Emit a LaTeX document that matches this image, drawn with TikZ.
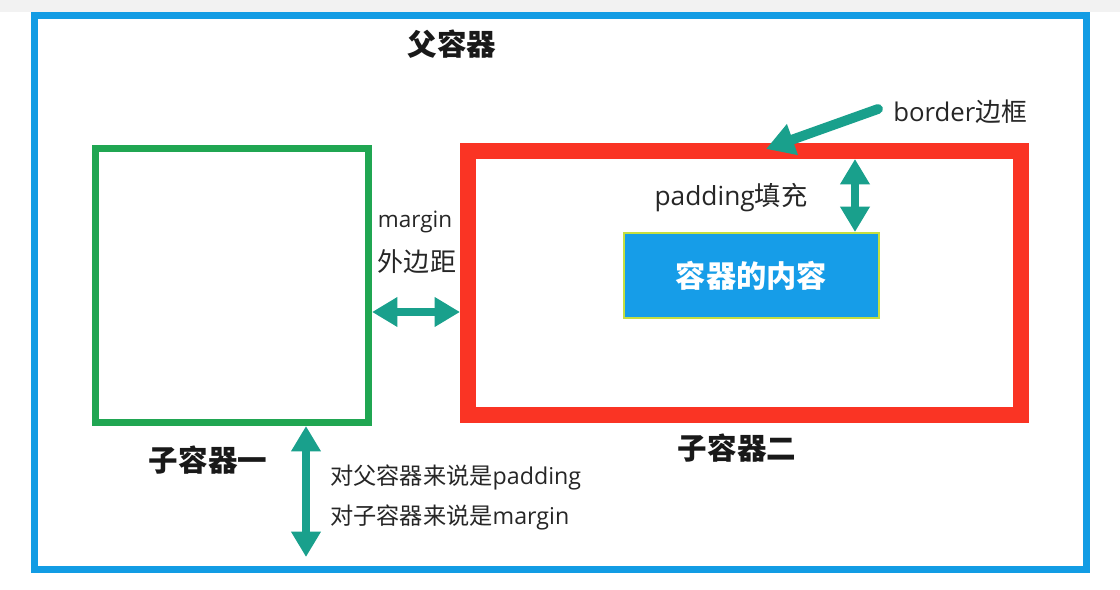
\documentclass[tikz,border=0pt]{standalone}
\usepackage{fontspec}
\setmainfont{Open Sans}
\newfontfamily\cjk{Noto Sans CJK SC}
\usetikzlibrary{arrows.meta}

\definecolor{parentblue}{RGB}{18,156,228}
\definecolor{childgreen}{RGB}{32,166,82}
\definecolor{childred}{RGB}{250,52,36}
\definecolor{contentblue}{RGB}{22,157,232}
\definecolor{contentrim}{RGB}{198,222,64}
\definecolor{arrowteal}{RGB}{25,160,140}

\tikzset{
  box/.style={draw, rectangle, inner sep=0pt},
  title/.style={font=\cjk\bfseries\fontsize{21}{24}\selectfont, text=black!90},
  note/.style={font=\fontsize{16.5}{20}\selectfont, text=black!85, inner sep=0pt},
  dblarrow/.style={draw=arrowteal, line width=5.5pt,
    {Triangle[width=20pt,length=18pt]}-{Triangle[width=20pt,length=18pt]}},
}

\begin{document}
\begin{tikzpicture}[x=0.025cm, y=-0.025cm]
\useasboundingbox (0,0) rectangle (1120,590);
\fill[white] (0,0) rectangle (1120,590);
\fill[black!5] (0,0) rectangle (1120,12);

% boxes
\node[box, draw=parentblue, line width=5pt, minimum width=26.3cm, minimum height=13.85cm] (parent) at (560.5,292.5) {};
\node[box, draw=childgreen, line width=5pt, minimum width=6.825cm, minimum height=6.85cm] (one) at (232,285.5) {};
\node[box, draw=childred, line width=11.3pt, minimum width=13.825cm, minimum height=6.6cm] (two) at (744.5,283) {};
\node[box, draw=contentrim, fill=contentblue, line width=1.4pt, minimum width=6.375cm, minimum height=2.125cm,
  font=\cjk\bfseries\fontsize{21.5}{24}\selectfont, text=white] (content) at (751.5,275.5) {容器的内容};

% labels
\node[title] (ptitle) at (452,44) {父容器};
\node[title] (onetitle) at (208,460) {子容器一};
\node[title] (twotitle) at (737,448) {子容器二};
\node[note, font=\fontsize{18.3}{22}\selectfont, anchor=west] (bdrlabel) at (893,112) {border{\cjk 边框}};
\node[note, font=\fontsize{18.7}{22}\selectfont] (padlabel) at (731,198) {padding{\cjk 填充}};
\node[note, font=\fontsize{16}{20}\selectfont] (mrglabel) at (415,222) {margin};
\node[note, font=\cjk\fontsize{18.5}{22}\selectfont] (mrgcn) at (417,262) {外边距};
\node[note, anchor=west] (noteone) at (330,477) {{\cjk 对父容器来说是}padding};
\node[note, anchor=west] (notetwo) at (330,517) {{\cjk 对子容器来说是}margin};

% arrows
\coordinate (mrg) at (0,312);
\coordinate (padtop) at (855,159);
\coordinate (gap) at (306,557);
\coordinate (bdrtail) at (878,109);
\coordinate (bdrtip) at (766,149);
\draw[dblarrow] (one.east |- mrg) -- (two.west |- mrg);
\draw[dblarrow] (padtop) -- (padtop |- content.north);
\draw[dblarrow] (gap |- one.south) -- (gap);
\draw[draw=arrowteal, line width=7pt, line cap=round, -{Triangle[width=22pt,length=20pt]}] (bdrtail) -- (bdrtip);
\end{tikzpicture}
\end{document}
